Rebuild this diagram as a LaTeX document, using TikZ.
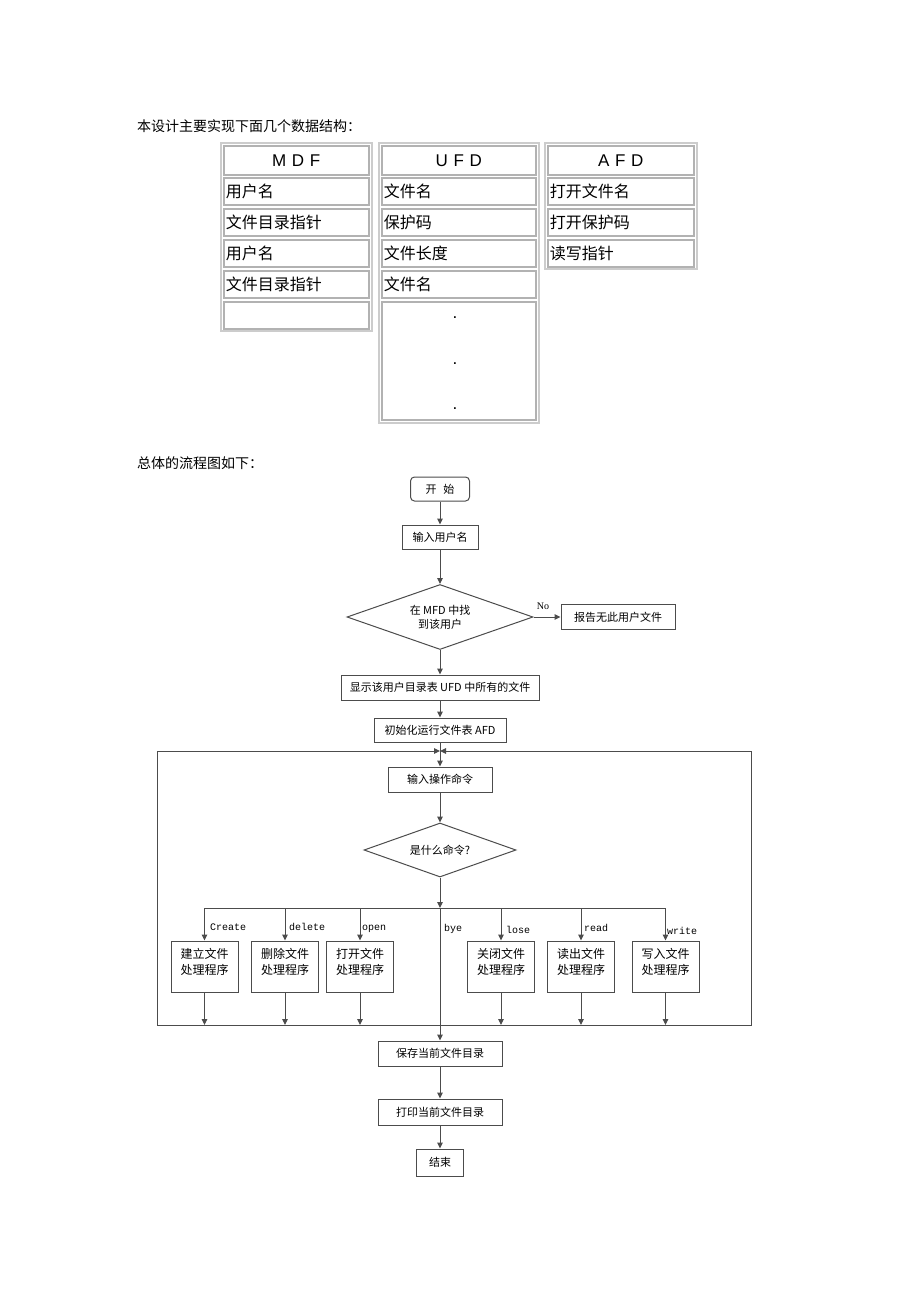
\documentclass[tikz,border=0pt]{standalone}
\usepackage{fontspec}
\newfontfamily\cjk{Noto Sans CJK SC}
\newfontfamily\headfont{Liberation Sans}
\newfontfamily\monofont{Liberation Mono}
\newfontfamily\serifont{Liberation Serif}
\usetikzlibrary{shapes.geometric,arrows.meta,positioning,calc}

\begin{document}
\begin{tikzpicture}[x=1pt,y=-1pt,
    cell/.style={draw=gray!60, line width=1.5pt, anchor=north west, inner xsep=2pt, inner ysep=1pt,
      minimum height=27pt, text width=#1, align=left, font=\cjk\fontsize{16}{18}\selectfont},
    head/.style={cell=#1, minimum height=29pt, align=center, font=\headfont\fontsize{17}{19}\selectfont},
    frame/.style={draw=gray!40, line width=2.5pt},
    title/.style={anchor=west, inner sep=0pt, font=\cjk\fontsize{14}{16}\selectfont},
    box/.style={draw=black!70, line width=1pt, minimum height=25pt, inner sep=3pt, font=\cjk\fontsize{11}{14}\selectfont},
    dec/.style={box, diamond, aspect=2.85, inner sep=0pt, align=center},
    proc/.style={box, minimum width=67pt, minimum height=51pt, align=center, font=\cjk\fontsize{12}{16}\selectfont},
    arr/.style={draw=black!70, line width=1pt, -{Triangle[length=6pt,width=5.5pt]}},
    lab/.style={anchor=west, inner sep=0pt, font=\monofont\fontsize{10}{12}\selectfont}]
    \useasboundingbox (0,0) rectangle (920,1303);

    \node[title] (t1) at (137,126) {本设计主要实现下面几个数据结构：};
    \draw[frame] (221,143) rectangle (372,331);
    \draw[frame] (379,143) rectangle (539,423);
    \draw[frame] (545,143) rectangle (697,269);
    \node[head=141pt] (mdf) at (223,145) {M D F};
    \node[head=150pt] (ufd0) at (381,145) {U F D};
    \node[head=142pt] (afd0) at (547,145) {A F D};
    \foreach \txt [count=\i] in {用户名,文件目录指针,用户名,文件目录指针,{}}
        \node[cell=141pt] (mdf\i) at (223,{146+31*\i}) {\txt};
    \foreach \txt [count=\i] in {文件名,保护码,文件长度,文件名}
        \node[cell=150pt] (ufd\i) at (381,{146+31*\i}) {\txt};
    \node[cell=150pt, minimum height=118pt] (ufd5) at (381,301) {};
    \foreach \y in {316,362,407}
        \node[anchor=base, inner sep=0pt, font=\headfont\fontsize{17}{19}\selectfont] (dot\y) at (455,{\y+2}) {.};
    \foreach \txt [count=\i] in {打开文件名,打开保护码,读写指针}
        \node[cell=142pt] (afd\i) at (547,{146+31*\i}) {\txt};

    \node[title] (t2) at (137,463) {总体的流程图如下：};
    \node[box, rounded corners=4pt, minimum width=59pt, minimum height=24pt] (start) at (440,489) {开\hspace{0.6em}始};
    \node[box, minimum width=76pt, minimum height=24pt] (user) at (440,537) {输入用户名};
    \node[dec, minimum width=186pt, minimum height=65pt] (find) at (440,617) {在 MFD 中找\\到该用户};
    \node[box, minimum width=114pt] (nofile) at (618,617) {报告无此用户文件};
    \node[font=\serifont\fontsize{10}{12}\selectfont, inner sep=0pt] (no) at (543,606) {No};
    \node[box, minimum width=198pt] (ufd) at (440,687.5) {显示该用户目录表 UFD 中所有的文件};
    \node[box, minimum width=132pt, minimum height=24pt] (afd) at (440,730) {初始化运行文件表 AFD};
    \node[box, minimum width=104pt] (cmd) at (440,779.5) {输入操作命令};
    \node[dec, minimum width=152pt, minimum height=54pt] (what) at (440,850) {是什么命令?};
    \foreach \name/\x/\txt in {create/204.5/建立文件, delete/285/删除文件, open/360/打开文件,
        close/501/关闭文件, read/581/读出文件, write/665.5/写入文件}
        \node[proc] (\name) at (\x,966.5) {\txt\\处理程序\\[-6pt]\mbox{}};
    \node[box, minimum width=124pt] (save) at (440,1053.5) {保存当前文件目录};
    \node[box, minimum width=124pt, minimum height=26pt] (print) at (440,1112) {打印当前文件目录};
    \node[box, minimum width=47pt, minimum height=27pt] (end) at (440,1162.5) {结束};

    \coordinate (top) at (440,751);
    \coordinate (bot) at (440,1025);
    \coordinate (sw) at (157,1025);
    \coordinate (ne) at (751,751);
    \coordinate (fork) at (440,908);

    \draw[arr] (start) -- (user);
    \draw[arr] (user) -- (find);
    \draw[arr] (find) -- (nofile);
    \draw[arr] (find) -- (ufd);
    \draw[arr] (ufd) -- (afd);
    \draw[arr] (afd) -- (cmd);
    \draw[arr] (bot) -- (sw) |- (top);
    \draw[arr] (bot) -| (ne) -- (top);
    \draw[arr] (cmd) -- (what);
    \draw[arr] (what) -- (fork);
    \foreach \name in {create,delete,open,close,read,write} {
        \draw[arr] (fork) -| (\name.north);
        \draw[arr] (\name) -- (\name |- bot);
    }
    \draw[arr] (fork) -- (save);
    \draw[arr] (save) -- (print);
    \draw[arr] (print) -- (end);

    \foreach \name/\x/\y/\txt in {lcreate/210/927/Create, ldelete/289/927/delete, lopen/362/929/open,
        lbye/444/929/bye, llose/506/930/lose, lread/584/928/read, lwrite/667/931/write}
        \node[lab] (\name) at (\x,\y) {\txt};
\end{tikzpicture}
\end{document}
